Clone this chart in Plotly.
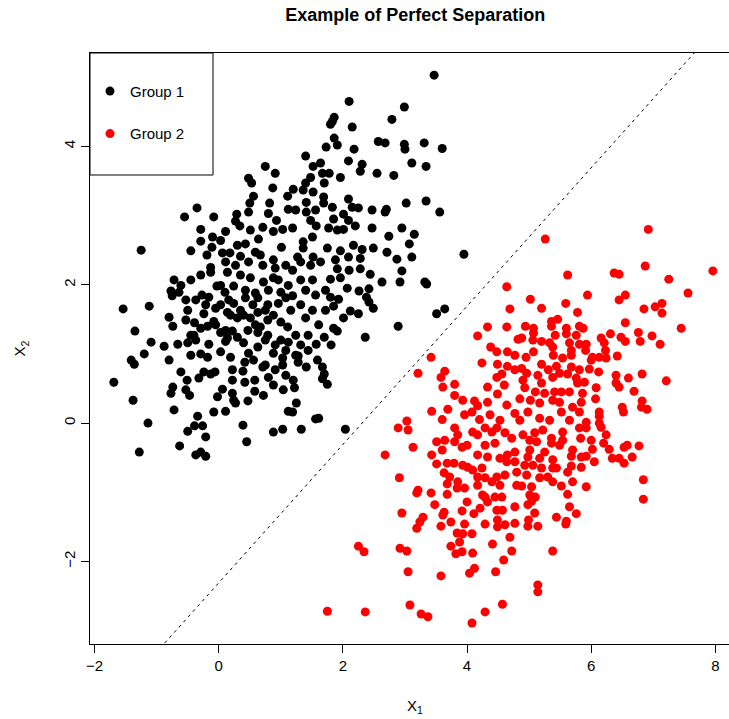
import numpy as np
import plotly.graph_objects as go

title_text = "Example of Perfect Separation"
group_names = ["Group 1", "Group 2"]
group_colors = ["#000000", "#FF0000"]

group1_points = [
    (0.75,3.71),(0.91,3.61),(0.48,3.54),(0.53,3.47),(0.87,3.40),(0.56,3.28),(1.11,3.28),(0.50,3.18),
    (0.82,3.18),(1.12,3.09),(-0.35,3.11),(-0.55,2.98),(-0.08,2.98),(0.29,3.02),(0.27,2.92),(0.48,3.05),
    (0.80,3.03),(0.93,2.93),(-0.29,2.80),(0.11,2.77),(0.34,2.85),(0.51,2.79),(0.71,2.83),(0.88,2.77),
    (1.03,2.80),(-0.29,2.63),(-0.10,2.69),(0.03,2.64),(-1.25,2.50),(-0.45,2.49),(-0.11,2.54),(0.30,2.57),
    (0.43,2.59),(0.64,2.66),(1.01,2.54),(-0.19,2.43),(0.06,2.46),(0.18,2.46),(0.35,2.41),(0.59,2.47),
    (0.67,2.43),(0.88,2.36),
    (3.47,5.03),(2.10,4.65),(2.99,4.57),(2.79,4.39),(1.86,4.42),(1.83,4.36),(1.80,4.32),(2.15,4.28),
    (1.86,4.12),(2.57,4.07),(2.68,4.05),(2.99,4.03),(3.00,3.96),(3.31,4.05),(3.60,3.97),(1.73,3.99),
    (1.91,4.02),(2.18,3.96),(1.40,3.86),(2.09,3.79),(2.31,3.74),(2.28,3.64),(3.11,3.76),(3.34,3.71),
    (1.52,3.71),(1.64,3.76),(1.67,3.61),(1.78,3.61),(1.96,3.55),(2.55,3.61),(2.82,3.58),(1.48,3.55),
    (1.70,3.47),(1.40,3.47),(1.20,3.38),(1.36,3.37),(1.52,3.34),(1.69,3.27),(1.41,3.19),(1.69,3.18),
    (1.83,3.12),(2.09,3.24),(2.15,3.12),(2.25,3.11),(2.47,3.08),(2.70,3.09),(2.68,3.05),(3.02,3.18),
    (3.34,3.21),(3.56,3.05),(1.24,3.08),(1.41,3.05),(1.56,3.08),(1.48,2.93),(1.57,2.85),(1.85,2.95),
    (2.01,3.02),(2.09,2.93),(2.20,2.85),(1.19,2.82),(1.77,2.82),(1.91,2.79),(2.01,2.80),(2.47,2.82),
    (2.95,2.82),(3.15,2.73),(2.74,2.70),(3.07,2.59),(3.95,2.44),(3.11,2.40),(2.87,2.37),(2.17,2.57),
    (2.31,2.51),(2.49,2.53),(2.71,2.47),(1.96,2.49),(1.75,2.53),(1.36,2.62),(1.51,2.69),(1.36,2.53),
    (1.27,2.40),(1.52,2.40),(1.88,2.36),(2.09,2.40),(2.28,2.38),
    (2.95,2.20),(2.63,2.04),(2.92,2.04),(3.32,2.04),(3.35,2.01),(3.64,1.65),(3.51,1.58),(2.89,1.40),
    (2.36,1.24),(2.25,1.58),(2.12,1.62),(2.01,1.52),(2.49,1.66),(2.42,1.75),(2.38,1.82),(2.42,1.94),
    (2.26,1.91),(2.07,1.95),(2.44,2.15),(2.28,2.23),(2.10,2.21),(1.91,2.23),(1.96,2.10),(1.80,2.08),
    (1.93,1.79),(1.80,1.82),(1.85,1.69),(1.72,1.63),(1.85,1.37),(1.91,1.33),(1.70,1.24),(1.81,1.13),
    (1.57,1.14),(1.44,1.05),(1.59,0.91),(1.67,0.81),(1.70,0.71),(1.67,0.64),(1.75,0.56),(1.41,0.81),
    (1.28,0.88),(1.28,0.97),(1.20,0.62),(1.22,0.51),(1.25,0.29),(1.19,0.16),(1.56,0.06),(1.61,0.07),
    (1.33,-0.09),(2.04,-0.09),
    (-0.72,2.07),(-0.77,1.91),(-0.64,1.89),(-0.75,1.84),(-0.27,1.85),(-0.16,1.82),(-0.03,1.98),(0.10,1.89),
    (0.24,1.98),(-1.54,1.65),(-1.12,1.69),(-0.50,1.63),(-0.80,1.53),(-0.53,1.49),(-0.74,1.40),(-0.39,1.45),
    (-0.24,1.58),(-0.08,1.47),(-0.29,1.37),(-0.18,1.40),(-1.35,1.33),(-1.09,1.17),(-1.20,1.00),(-0.88,1.11),
    (-0.80,0.91),(-0.66,1.14),(-0.50,1.16),(-0.40,1.27),(-0.45,0.98),(-0.29,1.00),(-0.18,0.95),(-0.16,1.14),
    (0.03,1.03),(0.19,0.95),(0.11,1.18),(-1.41,0.91),(-1.36,0.85),(-1.69,0.59),(-1.38,0.33),(-1.14,0.00),
    (-1.28,-0.42),(-0.72,0.19),(-0.77,0.43),(-0.74,0.52),(-0.61,0.74),(-0.53,0.48),(-0.47,0.40),(-0.51,0.62),
    (-0.32,0.65),(-0.24,0.74),(-0.13,0.71),(-0.06,0.74),(-0.02,0.38),(0.06,0.49),(-0.08,0.16),(0.11,0.17),
    (-0.34,0.10),(-0.39,-0.04),(-0.26,-0.04),(-0.50,-0.12),(-0.21,-0.20),(-0.63,-0.33),(-0.37,-0.46),(-0.29,-0.42),
    (-0.21,-0.48),(0.39,-0.03),(0.45,-0.27),(0.88,-0.13),(1.03,-0.09),(0.22,0.77),(0.39,0.75),(0.22,0.62),
    (0.42,0.59),(0.58,0.62),(0.22,0.43),(0.24,0.33),(0.27,0.29),(0.47,0.32),(0.58,0.46),(0.72,0.40),
    (0.88,0.55),(1.04,0.48),(1.12,0.17),(0.42,0.88),(0.56,0.91),(0.48,1.01),(0.88,1.01),(1.03,0.94),
    (1.03,0.84),(0.80,0.66),(0.71,0.81),(0.63,1.10),(0.40,1.16),(0.30,1.24),(0.14,1.23),(0.22,1.33),
    (0.03,1.31),(0.47,1.34),(0.63,1.31),(0.79,1.27),(1.00,1.20),(0.67,1.39),(0.30,1.52),(0.40,1.56),
    (0.51,1.52),(0.63,1.60),(0.79,1.49),(0.88,1.56),(1.00,1.46),(1.11,1.39),(0.03,1.71),(0.14,1.60),
    (0.24,1.73),(0.43,1.81),(0.63,1.81),(0.79,1.71),(0.96,1.73),(1.08,1.81),(1.12,1.99),(0.88,2.10),
    (0.72,2.04),(0.51,2.10),(0.35,2.14),(0.14,2.18),(-0.13,2.25),
    (0.11,2.33),(0.27,2.28),(0.48,2.33),(0.71,2.28),(0.91,2.24),(1.08,2.28),(1.19,2.21),(1.32,2.33),
    (1.48,2.28),(1.64,2.33),(0.16,1.78),(0.43,1.92),(0.59,1.88),(0.80,1.92),(1.00,1.89),(1.19,1.84),
    (1.40,1.92),(1.56,1.85),(1.72,1.92),(1.32,2.07),(1.51,2.07),(0.96,2.07),(0.35,1.63),(0.55,1.71),
    (0.75,1.63),(1.16,1.63),(1.32,1.71),(1.51,1.63),(1.40,1.52),(1.61,1.42),(0.59,1.42),(0.75,1.20),
    (0.91,1.13),(1.12,1.17),(1.24,1.27),(1.44,1.27),(1.32,1.13),(1.08,1.05),(1.24,0.98),(0.75,0.84),
    (0.91,0.77),(1.08,0.69),(0.19,1.56),(-0.05,1.66),(-0.21,1.71),(-0.05,1.42),(0.11,1.34),(-0.37,1.20),
    (-0.45,1.27),(-0.37,1.78),(-0.53,1.78),(-0.61,1.99),(-0.45,2.07),(-0.29,2.14),(-0.13,2.18),(0.03,1.99),
]

group2_points = [
    (4.64,1.97),(4.69,1.65),(4.33,1.39),(4.64,1.39),(4.17,1.26),(4.82,1.21),(4.38,1.10),(4.48,1.03),
    (4.65,1.03),(4.77,0.98),(3.42,0.95),(4.24,0.87),(4.49,0.85),(4.65,0.82),(4.77,0.77),(3.21,0.72),
    (3.64,0.75),(3.58,0.66),(3.80,0.56),(3.61,0.52),(4.56,0.71),(4.48,0.66),(4.33,0.52),(4.49,0.42),
    (3.93,0.33),(4.12,0.32),(4.17,0.25),(4.08,0.16),(3.43,0.17),(3.69,0.20),(3.03,0.03),(4.64,0.26),
    (4.77,0.14),(4.33,0.30),
    (6.92,2.80),(5.26,2.66),(7.96,2.20),(6.87,2.27),(5.62,2.14),(6.37,2.17),(6.45,2.15),(7.25,2.08),
    (7.56,1.88),(5.94,1.85),(6.55,1.85),(6.45,1.78),(5.02,1.79),(5.20,1.66),(5.59,1.73),(5.78,1.60),
    (6.85,1.65),(7.03,1.68),(7.14,1.73),(7.14,1.59),(7.45,1.37),(6.55,1.45),(5.46,1.50),(5.36,1.47),
    (5.36,1.40),(4.94,1.40),(5.07,1.37),(5.07,1.30),(5.60,1.37),(5.81,1.40),(5.87,1.37),(5.60,1.29),
    (5.76,1.27),(5.42,1.27),(6.31,1.29),(6.16,1.23),(6.48,1.24),(6.55,1.18),(6.76,1.31),(6.79,1.18),
    (6.98,1.26),(7.11,1.14),(4.88,1.23),(5.06,1.20),(5.20,1.18),(5.33,1.16),(5.38,1.10),(5.65,1.16),
    (5.68,1.05),(5.81,1.14),(5.92,1.14),(5.91,1.05),(6.21,1.16),(6.23,1.05),(5.07,1.03),(5.39,0.98),
    (5.68,0.98),(6.02,0.95),(6.00,0.91),(6.13,0.95),(6.24,0.94),(6.42,0.97),(5.20,0.85),(5.44,0.82),
    (5.54,0.94),(5.31,0.77),(5.49,0.72),(5.68,0.81),(5.81,0.77),(5.97,0.78),(6.12,0.74),(4.88,0.79),
    (4.96,0.72),(5.14,0.69),(4.90,0.62),(5.20,0.58),(5.38,0.66),(5.62,0.71),(5.76,0.65),(5.89,0.59),
    (5.78,0.58),(6.40,0.69),(6.40,0.58),(6.45,0.52),(6.60,0.65),(6.82,0.71),(7.21,0.61),(6.69,0.46),
    (6.08,0.51),(6.07,0.35),(5.86,0.43),(5.65,0.45),(5.41,0.45),(5.52,0.45),(4.93,0.51),(5.10,0.45),
    (5.25,0.43),(5.02,0.33),(5.17,0.29),(5.38,0.33),(5.49,0.30),(5.52,0.16),(5.84,0.30),(5.81,0.16),
    (5.70,0.23),(6.13,0.16),(6.13,0.10),(6.50,0.23),(6.52,0.16),(6.82,0.32),(6.81,0.23),(6.90,0.20),
    (4.98,0.16),(5.17,0.07),(5.33,0.04),(5.65,0.04),(5.92,0.01),(6.13,0.00),
    (5.22,-0.10),(5.54,-0.13),(5.81,-0.07),(5.92,-0.07),(6.16,-0.06),(6.24,-0.17),(6.00,-0.25),(5.83,-0.22),
    (5.54,-0.25),(5.36,-0.22),(5.36,-0.29),(5.49,-0.32),(5.09,-0.14),(4.90,-0.17),(5.01,-0.25),(5.12,-0.27),
    (6.20,-0.29),(6.29,-0.38),(6.02,-0.38),(6.53,-0.35),(6.58,-0.32),(6.77,-0.33),(6.34,-0.51),(6.45,-0.51),
    (6.66,-0.49),(6.53,-0.58),(6.05,-0.56),(5.92,-0.48),(5.84,-0.49),(5.70,-0.39),(5.68,-0.48),(5.25,-0.42),
    (5.01,-0.39),(4.98,-0.49),(5.17,-0.51),(5.38,-0.53),(4.93,-0.61),(5.06,-0.61),(5.20,-0.65),(5.38,-0.65),
    (5.44,-0.65),(5.68,-0.62),(5.84,-0.64),(5.62,-0.71),(4.96,-0.75),(5.17,-0.79),(5.30,-0.78),(5.38,-0.85),
    (5.70,-0.85),(5.52,-0.91),(5.92,-0.92),(4.88,-0.91),(5.04,-0.92),(6.84,-0.82),(6.84,-1.10),(5.62,-1.03),
    (5.01,-1.04),(5.10,-1.07),(5.04,-1.13),(4.98,-1.18),(5.65,-1.21),(5.76,-1.31),(5.09,-1.30),(5.44,-1.36),
    (5.60,-1.42),(5.59,-1.46),(4.99,-1.40),(4.98,-1.49),(5.14,-1.49),(5.38,-1.85),(5.14,-2.34),(5.14,-2.44),
    (2.89,-0.07),(3.05,-0.10),(3.13,-0.35),(2.68,-0.46),(2.91,-0.79),(3.21,-0.97),(3.19,-1.01),(3.42,-1.01),
    (3.48,-1.18),(2.95,-1.30),(3.29,-1.36),(3.24,-1.43),(3.19,-1.52),(2.25,-1.78),(2.34,-1.86),(2.92,-1.81),
    (3.03,-1.85),(3.05,-2.15),(3.58,-2.21),(4.04,-2.17),(4.12,-2.10),(4.46,-2.15),(4.59,-1.98),(4.72,-1.85),
    (4.41,-1.75),(4.69,-1.65),(1.75,-2.72),(2.36,-2.73),(3.08,-2.63),(3.26,-2.76),(3.37,-2.80),(4.08,-2.89),
    (4.29,-2.73),(4.57,-2.62),(3.88,-1.72),(3.74,-1.78),(3.82,-1.89),(3.92,-1.86),(4.09,-1.88),(3.84,-1.59),
    (3.93,-1.60),(4.08,-1.60),(3.96,-1.46),(3.74,-1.43),(3.58,-1.49),(3.63,-1.29),(3.61,-1.33),(3.92,-1.27),
    (4.11,-1.31),(4.29,-1.46),(4.00,-1.14),(4.21,-1.23),(4.29,-1.07),(4.45,-1.07),(4.56,-1.07),(4.48,-1.26),
    (4.57,-1.26),(4.49,-1.40),(4.61,-1.47),(4.77,-1.45),(4.77,-1.21),(4.49,-1.50),(3.68,-1.03),(3.84,-0.94),
    (3.96,-0.94),(3.85,-0.85),(3.68,-0.88),(3.63,-0.72),(3.72,-0.78),(3.51,-0.59),(3.43,-0.46),(3.68,-0.58),
    (3.79,-0.58),(3.93,-0.61),(4.01,-0.64),(4.09,-0.68),(4.24,-0.65),(4.17,-0.78),(4.17,-0.90),(4.29,-0.79),
    (4.40,-0.85),(4.48,-0.78),(4.53,-0.90),(4.61,-0.75),(4.80,-0.71),(4.80,-0.90),(4.25,-1.04),(4.33,-1.14),
    (3.60,-0.39),(3.51,-0.27),(3.64,-0.25),(3.80,-0.27),(3.92,-0.35),(4.00,-0.32),(4.09,-0.13),(4.17,-0.17),
    (4.29,-0.07),(4.40,-0.13),(4.48,-0.07),(4.61,-0.14),(4.72,-0.22),(4.77,-0.42),(4.65,-0.46),(4.53,-0.51),
    (4.33,-0.49),(4.17,-0.46),(4.29,-0.32),(4.45,-0.29),(3.80,-0.07),(3.85,-0.17),(4.77,-0.56),(4.64,-0.56),
    (3.80,0.40),(3.96,0.12),(4.37,0.12),(4.53,0.04),(4.85,0.04),(4.20,0.05),(3.60,0.05),(4.85,0.35),
    (4.95,0.95),(4.60,0.55),
]

# separating boundary x2 = slope * x1 + intercept
boundary_slope = 1.0
boundary_intercept = -2.31

x_range = [-2.074, 8.22]
y_range = [-3.194, 5.35]
x_ticks = [-2, 0, 2, 4, 6, 8]
y_ticks = [-2, 0, 2, 4]
x_tick_text = ["\u22122", "0", "2", "4", "6", "8"]
y_tick_text = ["\u22122", "0", "2", "4"]

FONT = "Liberation Sans, Arial, Helvetica, sans-serif"

fig = go.Figure()

for pts, name, col, grp in [(group1_points, group_names[0], group_colors[0], "g1"),
                            (group2_points, group_names[1], group_colors[1], "g2")]:
    xs, ys = zip(*pts)
    fig.add_trace(go.Scatter(
        x=list(xs), y=list(ys), mode="markers", name=name, legendgroup=grp,
        marker=dict(color=col, size=9, line=dict(width=0)),
    ))

bx = np.array(x_range)
fig.add_trace(go.Scatter(
    x=bx, y=boundary_slope * bx + boundary_intercept, mode="lines",
    line=dict(color="black", width=1, dash="3px,4px"),
    showlegend=False, hoverinfo="skip",
))

axis_common = dict(
    showgrid=False, zeroline=False, showline=True, linecolor="black", linewidth=1,
    mirror=True, ticks="outside", ticklen=8, tickwidth=1, tickcolor="black",
    automargin=False,
    tickfont=dict(family=FONT, size=15, color="black"),
)

fig.update_xaxes(range=x_range, tickvals=x_ticks, ticktext=x_tick_text, **axis_common)
fig.update_yaxes(range=y_range, tickvals=y_ticks, ticktext=y_tick_text, tickangle=-90, **axis_common)

fig.update_layout(
    width=729, height=719,
    margin=dict(l=90, r=0, t=53, b=75, autoexpand=False),
    plot_bgcolor="white", paper_bgcolor="white",
    title=dict(text="<b>" + title_text + "</b>", x=0.509, xref="paper", xanchor="center",
               y=0.979, yref="container", yanchor="middle",
               font=dict(family=FONT, size=18, color="black")),
    font=dict(family=FONT, color="black"),
    legend=dict(x=0.0, y=0.963, xanchor="left", yanchor="top", bgcolor="rgba(0,0,0,0)",
                borderwidth=0, font=dict(family=FONT, size=15, color="black"),
                traceorder="grouped", tracegroupgap=20),
    shapes=[dict(type="rect", xref="paper", yref="paper", x0=0, x1=(213 - 90) / 639,
                 y0=1 - (175 - 53) / 591, y1=1, line=dict(color="black", width=1),
                 fillcolor="white", layer="below")],
    annotations=[
        dict(text="X<sub>1</sub>", xref="paper", yref="paper", x=0.509, y=-0.105,
             xanchor="center", yanchor="middle", showarrow=False,
             font=dict(family=FONT, size=15, color="black")),
        dict(text="X<sub>2</sub>", xref="paper", yref="paper", x=-0.108, y=0.5,
             xanchor="center", yanchor="middle", showarrow=False, textangle=-90,
             font=dict(family=FONT, size=15, color="black")),
    ],
)

fig.write_html(
    "out.html",
    config={"displayModeBar": False},
    post_script="document.body.style.margin='0';document.body.style.overflow='hidden';",
)
